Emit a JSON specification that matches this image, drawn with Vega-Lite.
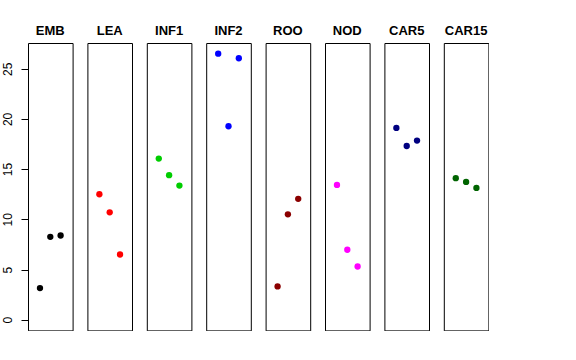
{
  "$schema": "https://vega.github.io/schema/vega-lite/v6.json",
  "background": "white",
  "padding": {"left": 1, "top": 25, "right": 0, "bottom": 0},
  "bounds": "flush",
  "data": {"values": [
    {"panel": "EMB", "pos": 1, "value": 3.15},
    {"panel": "EMB", "pos": 2, "value": 8.26},
    {"panel": "EMB", "pos": 3, "value": 8.39},
    {"panel": "LEA", "pos": 1, "value": 12.5},
    {"panel": "LEA", "pos": 2, "value": 10.7},
    {"panel": "LEA", "pos": 3, "value": 6.5},
    {"panel": "INF1", "pos": 1, "value": 16.05},
    {"panel": "INF1", "pos": 2, "value": 14.4},
    {"panel": "INF1", "pos": 3, "value": 13.36},
    {"panel": "INF2", "pos": 1, "value": 26.5},
    {"panel": "INF2", "pos": 2, "value": 19.27},
    {"panel": "INF2", "pos": 3, "value": 26.04},
    {"panel": "ROO", "pos": 1, "value": 3.32},
    {"panel": "ROO", "pos": 2, "value": 10.5},
    {"panel": "ROO", "pos": 3, "value": 12.04},
    {"panel": "NOD", "pos": 1, "value": 13.43},
    {"panel": "NOD", "pos": 2, "value": 6.97},
    {"panel": "NOD", "pos": 3, "value": 5.3},
    {"panel": "CAR5", "pos": 1, "value": 19.1},
    {"panel": "CAR5", "pos": 2, "value": 17.3},
    {"panel": "CAR5", "pos": 3, "value": 17.84},
    {"panel": "CAR15", "pos": 1, "value": 14.1},
    {"panel": "CAR15", "pos": 2, "value": 13.73},
    {"panel": "CAR15", "pos": 3, "value": 13.13}
  ]},
  "facet": {
    "column": {
      "field": "panel",
      "type": "nominal",
      "sort": ["EMB", "LEA", "INF1", "INF2", "ROO", "NOD", "CAR5", "CAR15"],
      "title": null,
      "header": {
        "labelFont": "Liberation Sans",
        "labelFontSize": 13,
        "labelFontWeight": "bold",
        "labelColor": "black",
        "labelPadding": 5
      }
    }
  },
  "spacing": 14.4,
  "spec": {
    "width": 44.6,
    "height": 287.4,
    "mark": {"type": "circle", "size": 40, "opacity": 1},
    "encoding": {
      "x": {
        "field": "pos",
        "type": "quantitative",
        "scale": {"domain": [-0.16, 4.16], "nice": false, "zero": false},
        "axis": null
      },
      "y": {
        "field": "value",
        "type": "quantitative",
        "scale": {"domain": [-1.06, 27.56], "nice": false, "zero": false},
        "axis": {
          "title": null,
          "values": [0, 5, 10, 15, 20, 25],
          "domain": false,
          "grid": false,
          "tickSize": 7,
          "tickColor": "black",
          "labelAngle": -90,
          "labelAlign": "center",
          "labelBaseline": "bottom",
          "labelPadding": 7,
          "labelFont": "Liberation Sans",
          "labelFontSize": 12,
          "labelColor": "black"
        }
      },
      "color": {
        "field": "panel",
        "type": "nominal",
        "scale": {
          "domain": ["EMB", "LEA", "INF1", "INF2", "ROO", "NOD", "CAR5", "CAR15"],
          "range": ["#000000", "#FF0000", "#00CD00", "#0000FF", "#8B0000", "#FF00FF", "#000080", "#006400"]
        },
        "legend": null
      }
    }
  },
  "config": {
    "view": {"stroke": "black", "strokeWidth": 1}
  }
}
